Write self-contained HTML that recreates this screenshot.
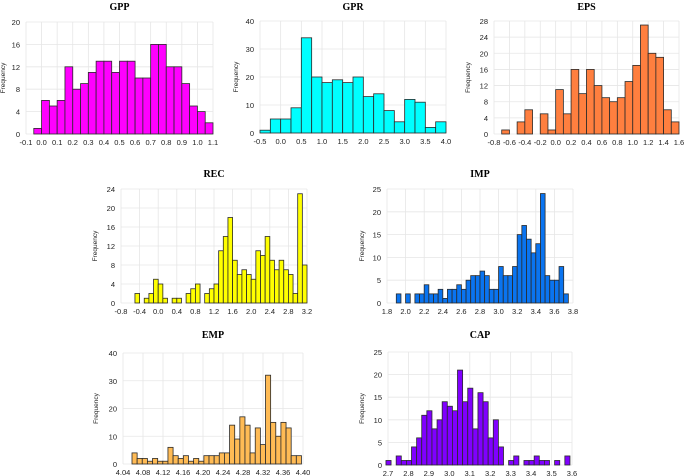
<!DOCTYPE html>
<html><head><meta charset="utf-8"><style>
html,body{margin:0;padding:0;background:#fff;}
svg{display:block;font-family:"Liberation Sans",sans-serif;}
.t{font-family:"Liberation Serif",serif;font-weight:bold;font-size:10px;fill:#000;}
.tk{font-size:7.5px;fill:#222;}
.yl{font-size:6.5px;fill:#222;}
</style></head><body>
<svg id="fig" width="685" height="476" viewBox="0 0 685 476" xmlns="http://www.w3.org/2000/svg"></svg>
<script>
// ---- data ----
const gppValues=[1,6,5,6,12,8,9,11,13,13,11,13,13,10,10,16,16,12,12,9,5,4,2];
const gppTicksX=[-0.1,0.0,0.1,0.2,0.3,0.4,0.5,0.6,0.7,0.8,0.9,1.0,1.1];
const gppTicksY=[0,4,8,12,16,20];
const gprValues=[1,5,5,9,34,20,18,19,18,20,13,14,8,4,12,11,2,4];
const gprTicksX=[-0.5,0.0,0.5,1.0,1.5,2.0,2.5,3.0,3.5,4.0];
const gprTicksY=[0,10,20,30,40];
const epsValues=[1,0,3,6,0,5,1,11,5,16,10,16,12,9,8,9,13,17,27,20,19,6,3];
const epsTicksX=[-0.8,-0.6,-0.4,-0.2,0.0,0.2,0.4,0.6,0.8,1.0,1.2,1.4,1.6];
const epsTicksY=[0,4,8,12,16,20,24,28];
const recValues=[2,0,1,2,5,4,1,0,1,1,0,2,3,4,0,2,3,4,11,14,18,9,6,7,6,5,11,10,14,9,7,9,7,6,2,23,8];
const recTicksX=[-0.8,-0.4,0.0,0.4,0.8,1.2,1.6,2.0,2.4,2.8,3.2];
const recTicksY=[0,4,8,12,16,20,24];
const impValues=[2,0,2,0,2,2,4,2,2,3,1,3,3,4,3,5,6,6,7,6,3,3,8,6,6,8,15,17,14,11,13,24,6,5,5,8,2];
const impTicksX=[1.8,2.0,2.2,2.4,2.6,2.8,3.0,3.2,3.4,3.6,3.8];
const impTicksY=[0,5,10,15,20,25];
const empValues=[4,2,2,1,2,1,1,6,3,2,3,1,2,1,3,3,3,4,4,14,9,17,14,4,13,7,32,15,10,15,13,3,3];
const empTicksX=[4.04,4.08,4.12,4.16,4.20,4.24,4.28,4.32,4.36,4.40];
const empTicksY=[0,10,20,30,40];
const capValues=[1,0,2,1,1,4,6,11,12,8,10,14,13,12,21,14,17,8,16,14,6,10,4,0,1,2,0,1,1,2,1,1,0,1,0,2];
const capTicksX=[2.7,2.8,2.9,3.0,3.1,3.2,3.3,3.4,3.5,3.6];
const capTicksY=[0,5,10,15,20,25];

// ---- layout (positions/styles) ----
const panels=[
 {id:'gpp',title:'GPP',vals:gppValues,tx:gppTicksX,ty:gppTicksY,start:-0.05,w:0.05,dec:1,x0:26,x1:213,y0:134,y1:22,fill:'#ff00ff',tY:10,lx:5},
 {id:'gpr',title:'GPR',vals:gprValues,tx:gprTicksX,ty:gprTicksY,start:-0.5,w:0.25,dec:1,x0:260,x1:446,y0:133,y1:21,fill:'#00ffff',tY:10,lx:238},
 {id:'eps',title:'EPS',vals:epsValues,tx:epsTicksX,ty:epsTicksY,start:-0.7,w:0.1,dec:1,x0:494,x1:679,y0:134,y1:21,fill:'#ff7f3f',tY:10,lx:470},
 {id:'rec',title:'REC',vals:recValues,tx:recTicksX,ty:recTicksY,start:-0.5,w:0.1,dec:1,x0:121,x1:307,y0:303,y1:189,fill:'#ffff00',tY:177,lx:97},
 {id:'imp',title:'IMP',vals:impValues,tx:impTicksX,ty:impTicksY,start:1.9,w:0.05,dec:1,x0:387,x1:573,y0:303,y1:189,fill:'#0a74f0',tY:177,lx:364},
 {id:'emp',title:'EMP',vals:empValues,tx:empTicksX,ty:empTicksY,start:4.058,w:0.01027,dec:2,x0:123,x1:303,y0:464,y1:353,fill:'#ffbb55',tY:338,lx:98},
 {id:'cap',title:'CAP',vals:capValues,tx:capTicksX,ty:capTicksY,start:2.69,w:0.025,dec:1,x0:388,x1:572,y0:465,y1:352,fill:'#8000ff',tY:338,lx:364}
];
const NS='http://www.w3.org/2000/svg';
const svg=document.getElementById('fig');
function mk(tag,attrs,parent){const e=document.createElementNS(NS,tag);for(const k in attrs)e.setAttribute(k,attrs[k]);parent.appendChild(e);return e;}
panels.forEach(p=>{
 const g=mk('g',{},svg);
 
 
 const xmin=p.tx[0],xmax=p.tx[p.tx.length-1],ymax=p.ty[p.ty.length-1];
 const sx=v=>p.x0+(v-xmin)/(xmax-xmin)*(p.x1-p.x0);
 const sy=v=>p.y0-v/ymax*(p.y0-p.y1);
 p.tx.forEach(t=>{
  const l=mk('line',{x1:sx(t),x2:sx(t),y1:p.y1,y2:p.y0,stroke:'#e6e6e6','stroke-width':0.8},g);
  
  
  const tx=mk('text',{x:sx(t),y:p.y0+11,'text-anchor':'middle',class:'tk'},g);
  tx.textContent=t.toFixed(p.dec);
  
  
 });
 p.ty.forEach(t=>{
  const l=mk('line',{x1:p.x0,x2:p.x1,y1:sy(t),y2:sy(t),stroke:'#e6e6e6','stroke-width':0.8},g);
  
  
  const tx=mk('text',{x:p.x0-6,y:sy(t)+3,'text-anchor':'end',class:'tk'},g);
  tx.textContent=t;
  
  
 });
 p.vals.forEach((v,i)=>{
  if(v<=0)return;
  const a=sx(p.start+i*p.w),b=sx(p.start+(i+1)*p.w);
  const r=mk('rect',{x:a,y:sy(v),width:b-a,height:sy(0)-sy(v),fill:p.fill,stroke:'#2a2a2a','stroke-width':0.8},g);
  
  
 });
 const ti=mk('text',{x:(p.x0+p.x1)/2,y:p.tY,'text-anchor':'middle',class:'t'},g);
 ti.textContent=p.title;
 
 
 const cy=(p.y0+p.y1)/2;
 const yl=mk('text',{x:p.lx,y:cy,'text-anchor':'middle',class:'yl',transform:'rotate(-90 '+p.lx+' '+cy+')'},g);
 yl.textContent='Frequency';
 
 
});
</script>
</body></html>
